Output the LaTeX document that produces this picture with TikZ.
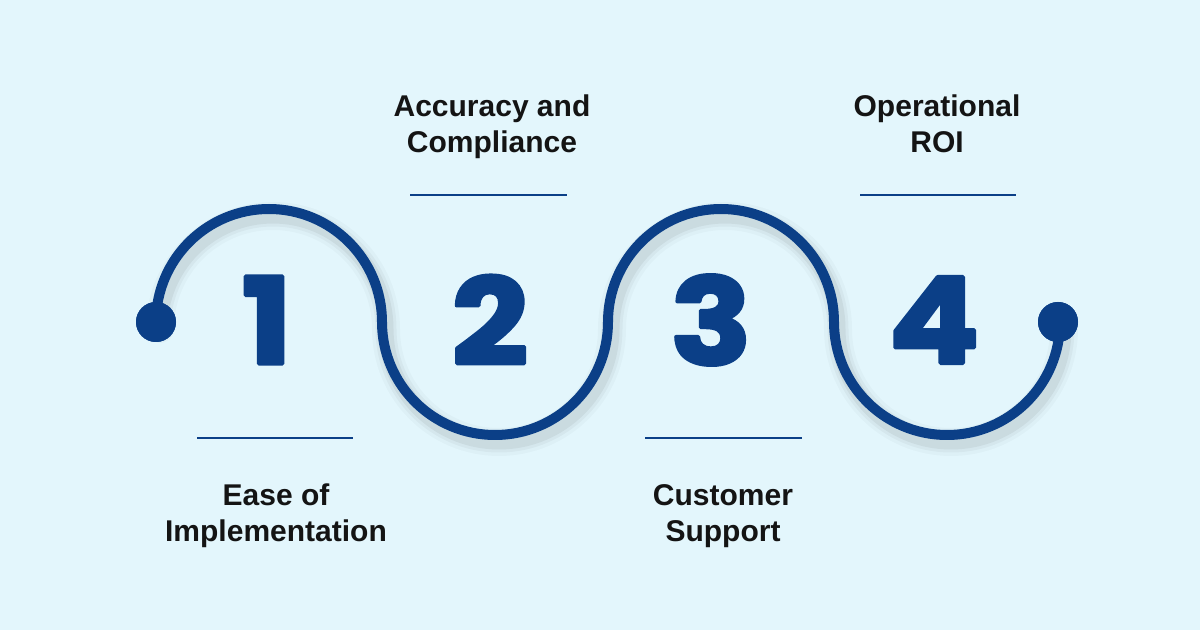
\documentclass[tikz,border=0pt]{standalone}
\usepackage{fontspec}
\setmainfont{Liberation Sans}
\newfontfamily\numfont{Poppins}[BoldFeatures={FakeBold=3, FakeStretch=1.12}]
\usetikzlibrary{calc}
\definecolor{wave}{HTML}{0B3F87}
\definecolor{sky}{HTML}{E3F6FC}
\definecolor{ink}{HTML}{141414}

\begin{document}
\begin{tikzpicture}[x=1pt, y=1pt, line cap=round, line join=round,
  dot/.style={circle, fill=wave, minimum size=40pt, inner sep=0pt},
  num/.style={font=\numfont\bfseries\fontsize{120}{120}\selectfont, text=wave, inner sep=0pt},
  lbl/.style={font=\bfseries\fontsize{30}{36}\selectfont, text=ink, align=center, inner sep=0pt},
  rule/.style={wave, line width=2pt, line cap=butt}]
  \fill[sky] (0,0) rectangle (1200,630);
  % Ends of the wave.
  \node[dot] (start) at (156,308) {};
  \node[dot] (stop) at (1058,308) {};
  % Soft shadow under the wave.
  \foreach \w/\o in {28/0.025,21/0.035,15/0.05} {
    \draw[black, opacity=\o, line width=\w pt] ($(start)+(4,-7)$)
      arc[start angle=180, end angle=0, radius=113]
      arc[start angle=180, end angle=360, radius=113]
      arc[start angle=180, end angle=0, radius=113]
      arc[start angle=180, end angle=360, radius=113];
  }
  % The wave.
  \draw[wave, line width=10pt] (start.center)
    arc[start angle=180, end angle=0, radius=113]
    arc[start angle=180, end angle=360, radius=113]
    arc[start angle=180, end angle=0, radius=113]
    arc[start angle=180, end angle=360, radius=113];
  \node[dot] at (start) {};
  \node[dot] at (stop) {};
  % Step numbers.
  \node[num] (n1) at (267,310) {1};
  \node[num] (n2) at (490,310) {2};
  \node[num] (n3) at (711,310) {3};
  \node[num] (n4) at (934,310) {4};
  % Rules.
  \draw[rule] (410,435) -- (567,435);
  \draw[rule] (860,435) -- (1016,435);
  \draw[rule] (197,192) -- (353,192);
  \draw[rule] (645,192) -- (802,192);
  % Labels.
  \node[lbl, anchor=base] (accuracy) at (492,477) {Accuracy and\\Compliance};
  \node[lbl, anchor=base] (roi) at (937,477) {Operational\\ROI};
  \node[lbl, anchor=base] (ease) at (276,89) {Ease of\\Implementation};
  \node[lbl, anchor=base] (support) at (723,89) {Customer\\Support};
\end{tikzpicture}
\end{document}
